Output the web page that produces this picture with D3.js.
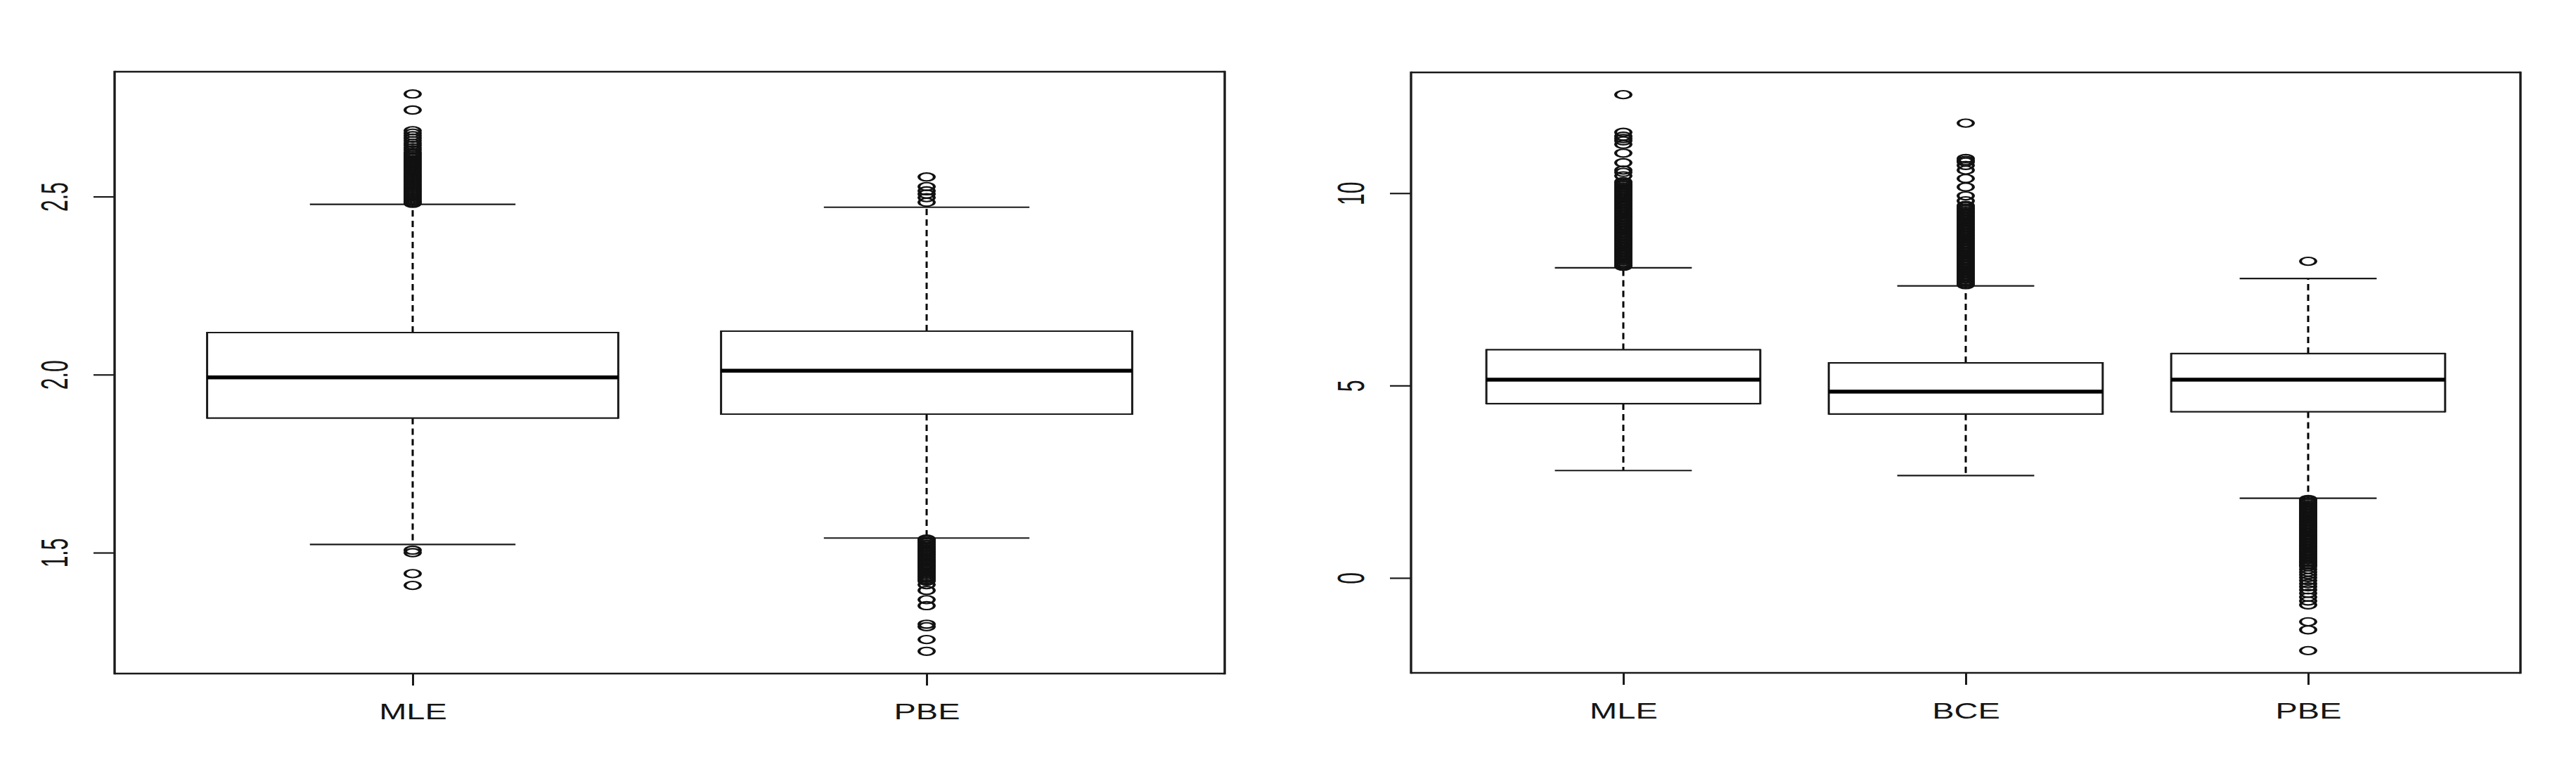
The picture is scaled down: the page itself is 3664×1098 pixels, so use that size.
<!DOCTYPE html>
<html>
<head>
<meta charset="utf-8">
<script src="https://cdn.jsdelivr.net/npm/d3@7"></script>
<style>
  body { margin: 0; background: #fff; }
  svg { display: block; }
  .tick text { font-family: 'Liberation Sans', Arial, sans-serif; fill: #151515; }
</style>
</head>
<body>
<div id="chart"></div>
<script>
/* Data: left panel */
const groupsA = ['MLE', 'PBE'];
const lowA = [1.523, 1.541];
const q1A = [1.878, 1.889];
const medA = [1.992, 2.011];
const q3A = [2.118, 2.122];
const highA = [2.478, 2.47];
const outliersA = [
  [2.788, 2.743, 2.685, 2.678, 2.671, 2.664, 2.657, 2.65, 2.644, 2.637, 2.631,
   2.624, 2.62, 2.616, 2.612, 2.608, 2.604, 2.6, 2.596, 2.592, 2.588, 2.584,
   2.58, 2.576, 2.572, 2.568, 2.564, 2.56, 2.556, 2.552, 2.548, 2.544, 2.54,
   2.536, 2.532, 2.528, 2.524, 2.52, 2.516, 2.512, 2.508, 2.504, 2.5, 2.496,
   2.492, 2.488, 2.484, 2.481,
   1.507, 1.5, 1.441, 1.408],
  [2.555, 2.528, 2.516, 2.507, 2.497, 2.484,
   1.538, 1.535, 1.531, 1.528, 1.524, 1.521, 1.517, 1.514, 1.51, 1.507, 1.503,
   1.5, 1.496, 1.493, 1.489, 1.486, 1.482, 1.479, 1.475, 1.472, 1.468, 1.465,
   1.461, 1.458, 1.454, 1.451, 1.447, 1.444, 1.44, 1.436, 1.432, 1.428, 1.424,
   1.42, 1.41, 1.394, 1.368, 1.351, 1.299, 1.292, 1.256, 1.223],
];
const ticksA = [1.5, 2.0, 2.5];
const tickLabelsA = ['1.5', '2.0', '2.5'];

/* Data: right panel */
const groupsB = ['MLE', 'BCE', 'PBE'];
const lowB = [2.79, 2.66, 2.07];
const q1B = [4.53, 4.26, 4.32];
const medB = [5.15, 4.84, 5.15];
const q3B = [5.93, 5.59, 5.83];
const highB = [8.06, 7.59, 7.78];
const outliersB = [
  [12.56, 11.58, 11.48, 11.42, 11.36, 11.27, 11.04, 10.79, 10.6, 10.54, 10.45,
   10.3, 10.27, 10.23, 10.2, 10.16, 10.13, 10.09, 10.06, 10.02, 9.99, 9.95,
   9.92, 9.88, 9.85, 9.81, 9.78, 9.74, 9.71, 9.67, 9.64, 9.6, 9.57, 9.53, 9.5,
   9.46, 9.43, 9.39, 9.36, 9.32, 9.29, 9.25, 9.22, 9.18, 9.15, 9.11, 9.08,
   9.04, 9.01, 8.97, 8.94, 8.9, 8.87, 8.83, 8.8, 8.76, 8.73, 8.69, 8.66, 8.62,
   8.59, 8.55, 8.52, 8.48, 8.45, 8.41, 8.38, 8.34, 8.31, 8.27, 8.24, 8.2,
   8.17, 8.13, 8.1],
  [11.82, 10.9, 10.85, 10.81, 10.72, 10.6, 10.38, 10.16, 9.93, 9.8,
   9.68, 9.65, 9.61, 9.58, 9.54, 9.51, 9.47, 9.44, 9.4, 9.37, 9.33, 9.3, 9.26,
   9.23, 9.19, 9.16, 9.12, 9.09, 9.05, 9.02, 8.98, 8.95, 8.91, 8.88, 8.84,
   8.81, 8.77, 8.74, 8.7, 8.67, 8.63, 8.6, 8.56, 8.53, 8.49, 8.46, 8.42, 8.39,
   8.35, 8.32, 8.28, 8.25, 8.21, 8.18, 8.14, 8.11, 8.07, 8.04, 8.0, 7.97,
   7.93, 7.9, 7.86, 7.83, 7.79, 7.76, 7.72, 7.69, 7.65, 7.62],
  [8.23,
   2.04, 2.01, 1.97, 1.94, 1.9, 1.87, 1.83, 1.8, 1.76, 1.73, 1.69, 1.66, 1.62,
   1.59, 1.55, 1.52, 1.48, 1.45, 1.41, 1.38, 1.34, 1.31, 1.27, 1.24, 1.2,
   1.17, 1.13, 1.1, 1.06, 1.03, 0.99, 0.96, 0.92, 0.89, 0.85, 0.82, 0.78,
   0.75, 0.71, 0.68, 0.64, 0.61, 0.57, 0.54, 0.5, 0.47, 0.43, 0.4, 0.36,
   0.33, 0.29, 0.22, 0.15, 0.08, 0.01, -0.07, -0.15, -0.23, -0.31, -0.4,
   -0.5, -0.6, -0.7, -1.14, -1.35, -1.89],
];
const ticksB = [0, 5, 10];
const tickLabelsB = ['0', '5', '10'];

/* Layout */
const svg_width = 3664,
  svg_height = 1098,
  ink = '#1a1a1a';

const svg = d3
  .select('#chart')
  .append('svg')
  .attr('width', svg_width)
  .attr('height', svg_height);

svg.append('rect').attr('width', svg_width).attr('height', svg_height).attr('fill', '#fff');

const line = (g, x1, y1, x2, y2, w) =>
  g
    .append('line')
    .attr('x1', x1)
    .attr('y1', y1)
    .attr('x2', x2)
    .attr('y2', y2)
    .attr('stroke', ink)
    .attr('stroke-width', w);

function drawPanel(p) {
  const n = p.groups.length;
  const stats = p.groups.map((name, i) => ({
    name,
    i: i + 1,
    lo: p.low[i],
    q1: p.q1[i],
    med: p.med[i],
    q3: p.q3[i],
    hi: p.high[i],
    out: p.outliers[i],
  }));

  // R style ranges: data range plus 4% each side
  const ext = d3.extent([...p.low, ...p.high, ...p.outliers.flat()]);
  const pad = (ext[1] - ext[0]) * 0.04;
  const y = d3
    .scaleLinear()
    .domain([ext[0] - pad, ext[1] + pad])
    .range([p.bottom, p.top]);
  const x = d3
    .scaleLinear()
    .domain([0.5 - n * 0.04, n + 0.5 + n * 0.04])
    .range([p.left, p.right]);

  const g = svg.append('g');

  // y axis
  const yAxis = g
    .append('g')
    .attr('transform', `translate(${p.left},0)`)
    .call(
      d3
        .axisLeft(y)
        .tickValues(p.ticks)
        .tickFormat((d, i) => p.tickLabels[i])
        .tickSize(30)
    );
  yAxis.select('.domain').remove();
  yAxis.selectAll('.tick line').attr('stroke', ink).attr('stroke-width', 2.2);
  yAxis
    .selectAll('.tick text')
    .attr('x', null)
    .attr('dy', null)
    .attr('text-anchor', 'middle')
    .style('font-size', '30px')
    .attr('transform', 'translate(-67,0) scale(1.8,1) rotate(-90)');

  // x axis
  const xAxis = g
    .append('g')
    .attr('transform', `translate(0,${p.bottom})`)
    .call(
      d3
        .axisBottom(x)
        .tickValues(d3.range(1, n + 1))
        .tickFormat((d) => p.groups[d - 1])
        .tickSize(17)
    );
  xAxis.select('.domain').remove();
  xAxis.selectAll('.tick line').attr('stroke', ink).attr('stroke-width', 3);
  xAxis
    .selectAll('.tick text')
    .attr('y', null)
    .attr('dy', null)
    .attr('text-anchor', 'middle')
    .style('font-size', '32px')
    .attr('transform', 'translate(0,65) scale(1.47,1)');

  // frame
  line(g, p.left, p.top, p.right, p.top, 2.5);
  line(g, p.left, p.bottom, p.right, p.bottom, 2.5);
  line(g, p.left, p.top - 1.2, p.left, p.bottom + 1.2, 3.4);
  line(g, p.right, p.top - 1.2, p.right, p.bottom + 1.2, 3.4);

  // boxes
  stats.forEach((s) => {
    const cx = x(s.i),
      bl = x(s.i - 0.4),
      br = x(s.i + 0.4),
      sl = x(s.i - 0.2),
      sr = x(s.i + 0.2);
    const b = g.append('g').attr('class', 'box');

    line(b, cx, y(s.q3), cx, y(s.hi), 3).attr('stroke', '#000').attr('stroke-dasharray', '9,6');
    line(b, cx, y(s.q1), cx, y(s.lo), 3).attr('stroke', '#000').attr('stroke-dasharray', '9,6');
    line(b, sl, y(s.hi), sr, y(s.hi), 2.2);
    line(b, sl, y(s.lo), sr, y(s.lo), 2.2);

    line(b, bl, y(s.q3), br, y(s.q3), 2.2);
    line(b, bl, y(s.q1), br, y(s.q1), 2.2);
    line(b, bl, y(s.q3) - 1, bl, y(s.q1) + 1, 3);
    line(b, br, y(s.q3) - 1, br, y(s.q1) + 1, 3);
    line(b, bl, y(s.med), br, y(s.med), 5.5).attr('stroke', '#000');

    b.selectAll('circle')
      .data(s.out)
      .join('circle')
      .attr('r', 5.6)
      .attr('fill', 'none')
      .attr('stroke', '#111')
      .attr('stroke-width', 2.1)
      .attr('transform', (d) => `translate(${cx},${y(d)}) scale(1.95,1)`);
  });
}

drawPanel({
  groups: groupsA,
  low: lowA,
  q1: q1A,
  med: medA,
  q3: q3A,
  high: highA,
  outliers: outliersA,
  ticks: ticksA,
  tickLabels: tickLabelsA,
  left: 163,
  right: 1742,
  top: 102,
  bottom: 958,
});

drawPanel({
  groups: groupsB,
  low: lowB,
  q1: q1B,
  med: medB,
  q3: q3B,
  high: highB,
  outliers: outliersB,
  ticks: ticksB,
  tickLabels: tickLabelsB,
  left: 2007,
  right: 3585,
  top: 103,
  bottom: 957,
});
</script>
</body>
</html>
